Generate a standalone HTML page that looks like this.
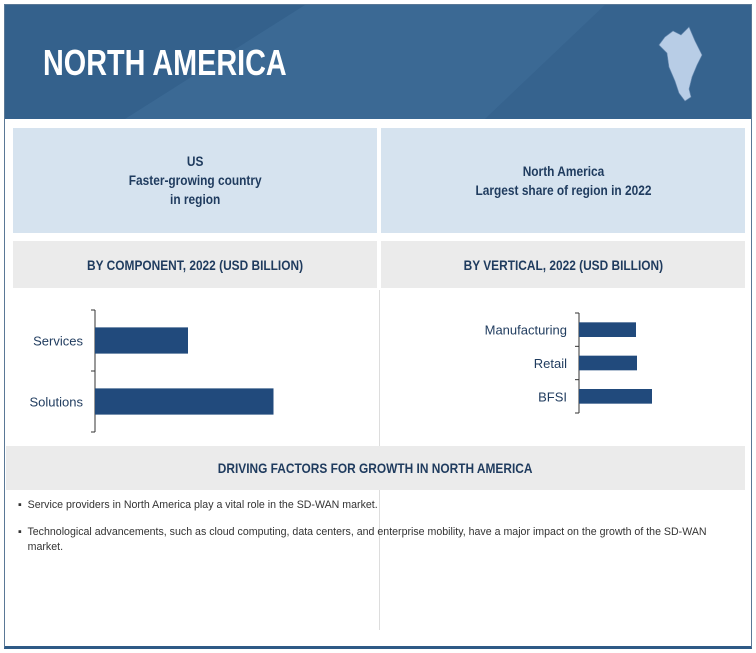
<!DOCTYPE html>
<html><head><meta charset="utf-8"><style>
*{margin:0;padding:0;box-sizing:border-box}
body{width:756px;height:653px;background:#fff;position:relative;overflow:hidden;font-family:"Liberation Sans Narrow","Liberation Sans",sans-serif;color:#1f3b5e}
.abs{position:absolute}
.frame{left:4px;top:4px;width:748px;height:645px;border:1px solid #5a7896;border-bottom:3px solid #2e5a86}
.banner{left:5px;top:5px;width:746px;height:114px;background:#386590;overflow:hidden}
.title{left:43px;top:42px;font-size:36px;font-weight:bold;color:#fff;transform:scaleX(0.8);transform-origin:left;white-space:nowrap}
.box{background:#d6e3ef;text-align:center;font-size:14px;font-weight:bold;display:flex;align-items:center;justify-content:center;line-height:19px}
.gbox{background:#ebebeb;text-align:center;font-size:14px;font-weight:bold;display:flex;align-items:center;justify-content:center}
.c{display:inline-block;transform:scaleX(0.85);white-space:nowrap}
.bul{font-size:11px;color:#333;left:18px;line-height:15px;transform:scaleX(0.965);transform-origin:left}
</style></head><body>
<div class="abs frame"></div>
<div class="abs banner">
<svg width="746" height="114" style="position:absolute;left:0;top:0">
<polygon points="0,0 300,0 120,114 0,114" fill="#34618c"/>
<polygon points="300,0 600,0 480,114 120,114" fill="#3b6994"/>
<polygon points="600,0 900,0 746,60 746,114 480,114" fill="#36638e"/>
<g fill="#b8cde6" stroke="#6a8cb2" stroke-width="0.6">
<path d="M660,32 L668,26 L676,30 L684,22 L690,36 L697,50 L692,60 L687,72 L684,84 L686,92 L680,96 L674,88 L670,76 L664,62 L662,48 L654,40 Z"/>
</g></svg>
</div>
<div class="abs title">NORTH AMERICA</div>
<div class="abs box" style="left:13px;top:128px;width:364px;height:105px"><span class="c">US<br>Faster-growing country<br>in region</span></div>
<div class="abs box" style="left:381px;top:128px;width:364px;height:105px"><span class="c">North America<br>Largest share of region in 2022</span></div>
<div class="abs gbox" style="left:13px;top:241px;width:364px;height:47px"><span class="c">BY COMPONENT, 2022 (USD BILLION)</span></div>
<div class="abs gbox" style="left:381px;top:241px;width:364px;height:47px"><span class="c">BY VERTICAL, 2022 (USD BILLION)</span></div>
<div class="abs" style="left:379px;top:290px;width:1px;height:340px;background:#ddd"></div>
<svg class="abs" style="left:0;top:0" width="756" height="653" id="charts"></svg>
<div class="abs gbox" style="left:6px;top:446px;width:739px;height:44px"><span class="c">DRIVING FACTORS FOR GROWTH IN NORTH AMERICA</span></div>
<div class="abs bul" style="top:498px;width:740px">▪&nbsp; Service providers in North America play a vital role in the SD-WAN market.</div>
<div class="abs bul" style="top:525px;width:760px;padding-left:10px;text-indent:-10px">▪&nbsp; Technological advancements, such as cloud computing, data centers, and enterprise mobility, have a major impact on the growth of the SD-WAN<br>market.</div>
<script>
const compCats=["Services","Solutions"];
const compVals=[3.1,5.95];
const vertCats=["Manufacturing","Retail","BFSI"];
const vertVals=[2.85,2.9,3.65];
const NS="http://www.w3.org/2000/svg";
const svg=document.getElementById('charts');
function mk(t,a){const e=document.createElementNS(NS,t);for(const k in a)e.setAttribute(k,a[k]);svg.appendChild(e);return e;}
function chart(cats,vals,x0,y0,y1,scale,barFrac,name){
  const band=(y1-y0)/cats.length;
  const ax=mk('line',{x1:x0,y1:y0,x2:x0,y2:y1,stroke:'#333','stroke-width':1});
  
  
  for(let i=0;i<=cats.length;i++){const t=mk('line',{x1:x0-4,y1:y0+i*band,x2:x0,y2:y0+i*band,stroke:'#333'});
    
    }
  cats.forEach((c,i)=>{
    const h=band*barFrac, cy=y0+band*(i+0.5);
    const r=mk('rect',{x:x0,y:cy-h/2,width:vals[i]*scale,height:h,fill:'#214a7c'});
    
    
    const t=mk('text',{x:x0-12,y:cy+5,'text-anchor':'end','font-size':13,fill:'#1f3b5e','font-family':'"Liberation Sans Narrow","Liberation Sans",sans-serif'});
    t.textContent=c;
    
    
  });
}
chart(compCats,compVals,95,310,432,30,0.43,'component');
chart(vertCats,vertVals,579,313,413,20,0.44,'vertical');
</script>
</body></html>
